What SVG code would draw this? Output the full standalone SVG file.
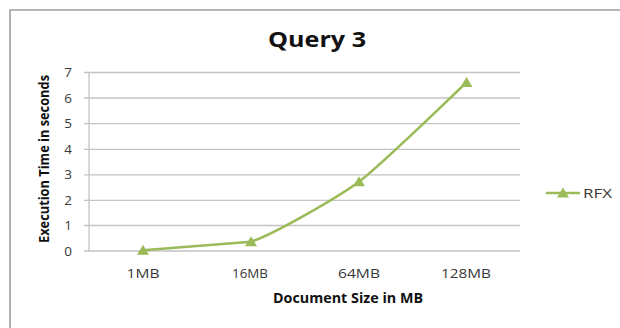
<svg xmlns="http://www.w3.org/2000/svg" xmlns:xlink="http://www.w3.org/1999/xlink" width="620" height="328" viewBox="0 0 620 328">
<style>
.grid{stroke:#c4c4c4;stroke-width:1.3;fill:none}
.tick{font-family:"Open Sans","Liberation Sans",sans-serif;font-size:13.5px;fill:#383838}
.ttl{font-family:"Open Sans","Liberation Sans",sans-serif;font-weight:bold;fill:#111}
.series{stroke:#9bbb59;stroke-width:2.6;fill:none;stroke-linejoin:round}
.mk{fill:#9bbb59}
</style>
<defs>
<polygon id="tri" points="0,-5.5 6,4.5 -6,4.5"/>
</defs>
<rect x="0" y="0" width="620" height="328" fill="#ffffff"/>
<path d="M10,328 V10 H620" stroke="#9e9e9e" stroke-width="1.6" fill="none"/>
<g id="title"><text class="ttl" x="317" y="47" font-size="22" text-anchor="middle" textLength="98" lengthAdjust="spacingAndGlyphs">Query 3</text></g>
<g id="gridlines">
<path class="grid" d="M84,72.5H520M84,98H520M84,123.7H520M84,149.3H520M84,174.8H520M84,200.3H520M84,225.5H520M84,251H520M89,72V251"/>
</g>
<g id="y-axis-labels">
<text class="tick" x="72" y="77" text-anchor="end">7</text>
<text class="tick" x="72" y="102.5" text-anchor="end">6</text>
<text class="tick" x="72" y="128.2" text-anchor="end">5</text>
<text class="tick" x="72" y="153.8" text-anchor="end">4</text>
<text class="tick" x="72" y="179.3" text-anchor="end">3</text>
<text class="tick" x="72" y="204.8" text-anchor="end">2</text>
<text class="tick" x="72" y="230" text-anchor="end">1</text>
<text class="tick" x="72" y="255.5" text-anchor="end">0</text>
</g>
<g id="x-axis-labels">
<text class="tick" x="143" y="278" text-anchor="middle" textLength="33" lengthAdjust="spacingAndGlyphs">1MB</text>
<text class="tick" x="250" y="278" text-anchor="middle" textLength="36" lengthAdjust="spacingAndGlyphs">16MB</text>
<text class="tick" x="359" y="278" text-anchor="middle" textLength="42" lengthAdjust="spacingAndGlyphs">64MB</text>
<text class="tick" x="466" y="278" text-anchor="middle" textLength="50" lengthAdjust="spacingAndGlyphs">128MB</text>
</g>
<g id="axis-titles">
<text class="ttl" x="348" y="303" font-size="14" text-anchor="middle" textLength="150" lengthAdjust="spacingAndGlyphs">Document Size in MB</text>
<text class="ttl" transform="translate(49,159) rotate(-90)" x="0" y="0" font-size="13.5" text-anchor="middle" textLength="168" lengthAdjust="spacingAndGlyphs">Execution Time in seconds</text>
</g>
<g id="series-rfx">
<path class="series" d="M143,250.3 L251,241.7 C272.6,234.8 337.5,197.6 359,181.7 C380.5,165.8 455.7,92.4 466.5,82.5"/>
<use href="#tri" class="mk" x="143" y="250.3"/>
<use href="#tri" class="mk" x="251" y="241.7"/>
<use href="#tri" class="mk" x="359" y="181.7"/>
<use href="#tri" class="mk" x="466.5" y="82.5"/>
</g>
<g id="legend">
<line x1="546" y1="193" x2="580" y2="193" class="series"/>
<use href="#tri" class="mk" x="563" y="193"/>
<text class="tick" x="583" y="198" textLength="29" lengthAdjust="spacingAndGlyphs">RFX</text>
</g>
</svg>
